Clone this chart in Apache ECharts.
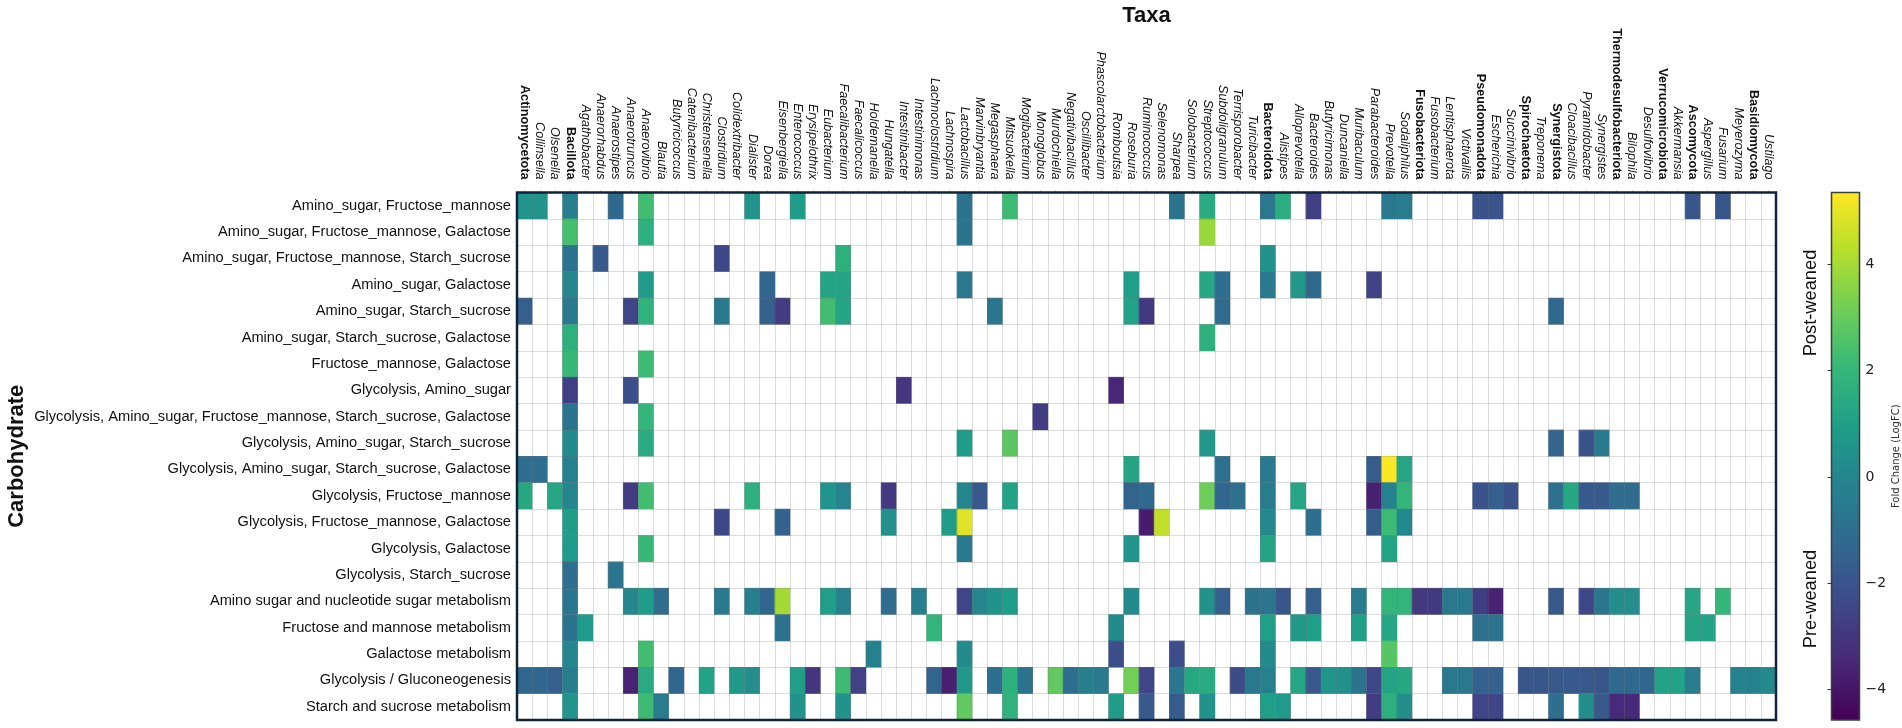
<!DOCTYPE html>
<html>
<head>
<meta charset="utf-8">
<title>Carbohydrate vs Taxa</title>
<script src="https://cdn.jsdelivr.net/npm/echarts@6/dist/echarts.min.js"></script>
<style>
    html, body { margin: 0; padding: 0; background: #fff; }
    #chart { width: 1902px; height: 728px; }
</style>
</head>
<body>
<div id="chart"></div>
<script>
const carbohydrates = [
    'Amino_sugar, Fructose_mannose',
    'Amino_sugar, Fructose_mannose, Galactose',
    'Amino_sugar, Fructose_mannose, Starch_sucrose',
    'Amino_sugar, Galactose',
    'Amino_sugar, Starch_sucrose',
    'Amino_sugar, Starch_sucrose, Galactose',
    'Fructose_mannose, Galactose',
    'Glycolysis, Amino_sugar',
    'Glycolysis, Amino_sugar, Fructose_mannose, Starch_sucrose, Galactose',
    'Glycolysis, Amino_sugar, Starch_sucrose',
    'Glycolysis, Amino_sugar, Starch_sucrose, Galactose',
    'Glycolysis, Fructose_mannose',
    'Glycolysis, Fructose_mannose, Galactose',
    'Glycolysis, Galactose',
    'Glycolysis, Starch_sucrose',
    'Amino sugar and nucleotide sugar metabolism',
    'Fructose and mannose metabolism',
    'Galactose metabolism',
    'Glycolysis / Gluconeogenesis',
    'Starch and sucrose metabolism'
];

const taxa = [
    'Actinomycetota', 'Collinsella', 'Olsenella', 'Bacillota', 'Agathobacter', 'Anaerorhabdus', 'Anaerostipes',
    'Anaerotruncus', 'Anaerovibrio', 'Blautia', 'Butyricicoccus', 'Catenibacterium', 'Christensenella', 'Clostridium',
    'Colidextribacter', 'Dialister', 'Dorea', 'Eisenbergiella', 'Enterococcus', 'Erysipelothrix', 'Eubacterium',
    'Faecalibacterium', 'Faecalicoccus', 'Holdemanella', 'Hungatella', 'Intestinibacter', 'Intestinimonas',
    'Lachnoclostridium', 'Lachnospira', 'Lactobacillus', 'Marvinbryantia', 'Megasphaera', 'Mitsuokella', 'Mogibacterium',
    'Monoglobus', 'Murdochiella', 'Negativibacillus', 'Oscillibacter', 'Phascolarctobacterium', 'Romboutsia', 'Roseburia',
    'Ruminococcus', 'Selenomonas', 'Sharpea', 'Solobacterium', 'Streptococcus', 'Subdoligranulum', 'Terrisporobacter',
    'Turicibacter', 'Bacteroidota', 'Alistipes', 'Alloprevotella', 'Bacteroides', 'Butyricimonas', 'Duncaniella',
    'Muribaculum', 'Parabacteroides', 'Prevotella', 'Sodaliphilus', 'Fusobacteriota', 'Fusobacterium', 'Lentisphaerota',
    'Victivallis', 'Pseudomonadota', 'Escherichia', 'Succinivibrio', 'Spirochaetota', 'Treponema', 'Synergistota',
    'Cloacibacillus', 'Pyramidobacter', 'Synergistes', 'Thermodesulfobacteriota', 'Bilophila', 'Desulfovibrio',
    'Verrucomicrobiota', 'Akkermansia', 'Ascomycota', 'Aspergillus', 'Fusarium', 'Meyerozyma', 'Basidiomycota', 'Ustilago'
];

// phyla are set upright and bold, genera in italic
const phyla = [
    'Actinomycetota', 'Bacillota', 'Bacteroidota', 'Fusobacteriota', 'Pseudomonadota', 'Spirochaetota',
    'Synergistota', 'Thermodesulfobacteriota', 'Verrucomicrobiota', 'Ascomycota', 'Basidiomycota'
];

// one list per carbohydrate row: [taxon index, logFC]
const row00 = [[0,0.6],[1,0.6],[3,-0.3],[6,-1.2],[8,2.3],[15,0.5],[18,0.9],[29,-0.8],[32,2.2],[43,-0.8],[45,1.5],[49,-0.6],[50,1.6],[52,-2.7],[57,-0.6],[58,-0.4],[63,-2.0],[64,-2.0],[77,-1.9],[79,-1.9]];
const row01 = [[3,2.4],[8,1.7],[29,-0.8],[45,3.8]];
const row02 = [[3,-0.8],[5,-1.8],[13,-2.4],[21,1.7],[49,0.5]];
const row03 = [[3,0.0],[8,0.8],[16,-1.3],[20,1.2],[21,1.2],[29,-0.6],[40,1.0],[45,1.4],[46,-1.0],[49,-0.5],[51,0.7],[52,-1.2],[56,-2.6]];
const row04 = [[0,-1.6],[3,-0.5],[7,-2.5],[8,1.8],[13,-0.6],[16,-1.5],[17,-2.8],[20,2.3],[21,1.2],[31,-0.7],[40,1.1],[41,-2.9],[46,-1.1],[68,-1.2]];
const row05 = [[3,1.7],[45,1.7]];
const row06 = [[3,2.1],[8,2.2]];
const row07 = [[3,-2.7],[7,-2.1],[25,-3.0],[39,-3.5]];
const row08 = [[3,-0.8],[8,2.0],[34,-2.8]];
const row09 = [[3,0.2],[8,1.5],[29,0.9],[32,2.8],[45,0.7],[68,-1.4],[70,-2.0],[71,-0.5]];
const row10 = [[0,-1.0],[1,-1.0],[3,-0.2],[40,1.2],[46,-0.9],[49,-0.5],[56,-1.7],[57,5.3],[58,1.3]];
const row11 = [[0,1.4],[2,1.3],[3,0.0],[7,-2.8],[8,2.3],[15,1.7],[20,0.6],[21,-0.1],[24,-2.9],[29,0.0],[30,-1.8],[32,1.1],[40,-1.4],[41,-1.2],[45,3.1],[46,-1.3],[47,-0.9],[49,-0.4],[51,1.3],[56,-3.7],[57,-0.2],[58,2.0],[63,-2.0],[64,-1.6],[65,-2.0],[68,-0.9],[69,1.4],[70,-1.8],[71,-1.8],[72,-1.1],[73,-1.1]];
const row12 = [[3,0.9],[13,-2.4],[17,-1.5],[24,0.4],[28,0.9],[29,4.9],[41,-3.8],[42,4.4],[49,0.1],[52,-1.0],[56,-1.7],[57,2.2],[58,0.1]];
const row13 = [[3,0.8],[8,2.1],[29,-0.5],[40,0.6],[49,1.2],[57,1.2]];
const row14 = [[3,-1.0],[6,-0.7]];
const row15 = [[3,-0.7],[7,0.0],[8,0.9],[9,-1.1],[13,-0.5],[15,-0.3],[16,-1.3],[17,4.0],[20,1.0],[21,-0.2],[24,-1.1],[26,-0.3],[29,-2.5],[30,0.0],[31,0.5],[32,0.9],[40,0.2],[45,0.5],[46,-1.6],[48,-0.8],[49,-0.7],[50,-1.9],[52,-1.6],[55,-0.4],[57,1.9],[58,1.9],[59,-2.9],[60,-2.9],[61,-0.6],[62,-0.6],[63,-2.7],[64,-3.6],[68,-1.8],[70,-2.4],[71,-0.7],[72,0.3],[73,0.3],[77,1.3],[79,2.0]];
const row16 = [[3,-0.8],[4,0.8],[17,-0.9],[27,1.9],[39,0.2],[49,1.0],[51,0.7],[52,1.0],[55,1.0],[57,1.3],[63,-0.9],[64,-0.8],[77,1.2],[78,1.1]];
const row17 = [[3,0.0],[8,2.3],[23,-0.2],[29,0.2],[39,-2.2],[43,-2.2],[49,0.2],[57,2.7]];
const row18 = [[0,-1.3],[1,-1.3],[2,-1.6],[3,-0.3],[7,-3.6],[8,1.5],[10,-1.3],[12,1.1],[14,0.7],[15,0.3],[18,1.0],[19,-3.0],[21,2.2],[22,-2.6],[27,-1.4],[28,-3.7],[29,0.7],[31,-1.0],[32,1.7],[33,-0.8],[35,2.9],[36,-1.0],[37,-0.3],[38,-0.5],[40,3.2],[41,-2.5],[43,-0.7],[44,1.4],[45,1.5],[47,-2.3],[48,-0.6],[49,-0.2],[51,1.3],[52,-1.8],[53,0.6],[54,0.4],[55,-0.8],[56,-2.4],[57,1.2],[58,1.4],[61,-0.6],[62,-0.6],[63,-1.5],[64,-1.5],[66,-1.9],[67,-1.9],[68,-1.8],[69,-1.8],[70,-1.8],[71,-1.9],[72,-1.2],[73,-1.2],[74,-1.3],[75,1.1],[76,1.1],[77,-0.4],[80,-0.2],[81,-0.2],[82,0.1]];
const row19 = [[3,0.6],[8,2.2],[9,-0.4],[18,0.5],[21,0.5],[29,2.9],[32,1.8],[39,0.9],[41,-1.8],[43,-1.7],[45,0.5],[49,1.0],[50,0.8],[56,-2.8],[57,1.7],[58,0.3],[63,-2.5],[64,-2.5],[68,-1.0],[70,0.3],[71,-1.8],[72,-3.4],[73,-3.4]];

const rows = [row00, row01, row02, row03, row04, row05, row06, row07, row08, row09,
    row10, row11, row12, row13, row14, row15, row16, row17, row18, row19];

const colorMin = -4.57;
const colorMax = 5.35;
const colorTicks = [-4, -2, 0, 2, 4];
const viridis = ['#440154', '#482878', '#3e4989', '#31688e', '#26828e', '#1f9e89', '#35b779', '#6ece58', '#b5de2b', '#fde725'];

const font = '"Liberation Sans", Arial, sans-serif';

let heatData = [];
rows.forEach((row, r) => {
    row.forEach(cell => heatData.push([cell[0], r, cell[1]]));
});

const taxaLabels = taxa.map(name => {
    if (phyla.includes(name)) {
        return { value: name, textStyle: { fontWeight: 'bold', fontStyle: 'normal' } };
    }
    return name;
});

const option = {
    animation: false,
    backgroundColor: '#fff',
    textStyle: { fontFamily: font },
    grid: [
        { left: 517, top: 192.5, width: 1259, height: 527.5, outerBoundsMode: 'none', show: true, z: 10, backgroundColor: 'transparent', borderColor: '#0f2438', borderWidth: 2.5 },
        { left: 1831.5, top: 192.5, width: 28, height: 527.5, outerBoundsMode: 'none', show: true, z: 10, backgroundColor: 'transparent', borderColor: '#3a3f3a', borderWidth: 1.5 }
    ],
    xAxis: [
        {
            type: 'category',
            position: 'top',
            gridIndex: 0,
            z: 3,
            data: taxaLabels,
            name: 'Taxa',
            nameLocation: 'middle',
            nameGap: 166,
            nameMoveOverlap: false,
            nameTextStyle: { fontFamily: font, fontSize: 22, fontWeight: 'bold', color: '#111' },
            axisLine: { show: false },
            axisTick: { show: true, alignWithLabel: true, length: 2, lineStyle: { color: '#aaa' } },
            axisLabel: { interval: 0, rotate: 90, margin: 13, fontSize: 12.6, fontStyle: 'italic', fontFamily: font, color: '#111' },
            splitLine: { show: true, interval: 0, lineStyle: { color: 'rgba(120,120,120,0.25)', width: 1 } }
        },
        { type: 'value', gridIndex: 1, show: false, min: 0, max: 1 }
    ],
    yAxis: [
        {
            type: 'category',
            inverse: true,
            gridIndex: 0,
            z: 3,
            data: carbohydrates,
            name: 'Carbohydrate',
            nameLocation: 'middle',
            nameGap: 489,
            nameMoveOverlap: false,
            nameTextStyle: { fontFamily: font, fontSize: 22, fontWeight: 'bold', color: '#111' },
            axisLine: { show: false },
            axisTick: { show: false },
            axisLabel: { interval: 0, margin: 6, fontSize: 14.65, fontFamily: font, color: '#111' },
            splitLine: { show: true, interval: 0, lineStyle: { color: 'rgba(120,120,120,0.25)', width: 1 } }
        },
        {
            type: 'value',
            gridIndex: 1,
            position: 'right',
            z: 11,
            min: colorMin,
            max: colorMax,
            name: 'Fold Change (LogFC)',
            nameLocation: 'middle',
            nameRotate: 90,
            nameGap: 32,
            nameMoveOverlap: false,
            nameTextStyle: { fontFamily: '"DejaVu Sans"', fontSize: 10, color: '#333' },
            axisLine: { show: false },
            splitLine: { show: false },
            axisTick: { show: true, inside: true, length: 4, customValues: colorTicks, lineStyle: { color: '#2a3a30' } },
            axisLabel: {
                margin: 6,
                fontSize: 14,
                fontFamily: '"DejaVu Sans"',
                color: '#222',
                customValues: colorTicks,
                formatter: v => String(v).replace('-', '\u2212')
            }
        }
    ],
    visualMap: {
        type: 'continuous',
        seriesIndex: 0,
        dimension: 2,
        min: colorMin,
        max: colorMax,
        calculable: false,
        left: 1831.5,
        top: 192.5,
        itemWidth: 28,
        itemHeight: 527.5,
        padding: 0,
        text: null,
        showLabel: false,
        inRange: { color: viridis }
    },
    graphic: [
        { type: 'text', x: 1811, y: 303, rotation: Math.PI / 2, style: { text: 'Post-weaned', font: '18.3px ' + font, fill: '#111', textAlign: 'center', textVerticalAlign: 'middle' } },
        { type: 'text', x: 1811, y: 599, rotation: Math.PI / 2, style: { text: 'Pre-weaned', font: '18.3px ' + font, fill: '#111', textAlign: 'center', textVerticalAlign: 'middle' } }
    ],
    series: [
        {
            type: 'heatmap',
            xAxisIndex: 0,
            yAxisIndex: 0,
            data: heatData,
            itemStyle: { borderWidth: 0 },
            emphasis: { disabled: true }
        }
    ]
};

const chart = echarts.init(document.getElementById('chart'));
chart.setOption(option);
</script>
</body>
</html>
